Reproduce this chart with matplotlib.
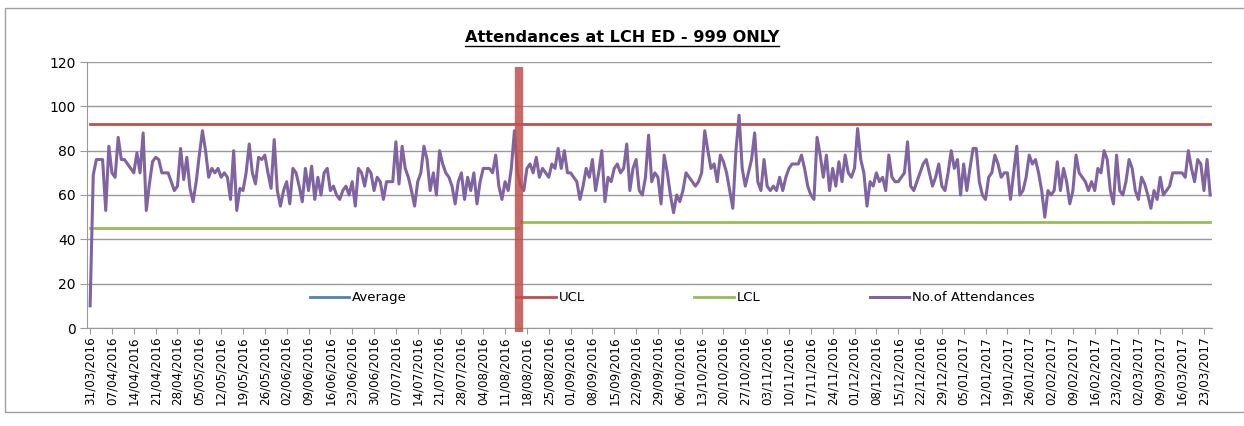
#!/usr/bin/env python3
"""Daily 999 attendances at LCH ED with control limits."""

import matplotlib
matplotlib.use("Agg")
import matplotlib.pyplot as plt
import matplotlib.dates as mdates
from matplotlib.lines import Line2D
from matplotlib.patches import Rectangle
import pandas as pd

START_DATE = "2016-03-31"

# one value per day, starting 31/03/2016
attendances = [
    10, 69, 76, 76, 76, 53, 82, 70, 68, 86,
    76, 76, 74, 72, 70, 79, 70, 88, 53, 65,
    75, 77, 76, 70, 70, 70, 66, 62, 64, 81,
    67, 77, 63, 57, 66, 78, 89, 80, 68, 72,
    70, 72, 68, 70, 68, 58, 80, 53, 63, 62,
    70, 83, 70, 65, 77, 76, 78, 70, 63, 85,
    62, 55, 62, 66, 56, 72, 70, 64, 57, 72,
    62, 73, 58, 68, 60, 70, 72, 62, 64, 60,
    58, 62, 64, 60, 66, 55, 72, 70, 64, 72,
    70, 62, 68, 66, 58, 66, 66, 66, 84, 65,
    82, 72, 68, 62, 55, 66, 70, 82, 76, 62,
    70, 60, 80, 74, 70, 68, 64, 56, 66, 70,
    58, 68, 62, 70, 56, 66, 72, 72, 72, 70,
    78, 64, 58, 66, 62, 72, 89, 70, 64, 62,
    72, 74, 70, 77, 68, 72, 70, 68, 74, 72,
    81, 72, 80, 70, 70, 68, 66, 58, 64, 72,
    68, 76, 62, 70, 80, 57, 68, 66, 72, 74,
    70, 72, 83, 62, 72, 76, 62, 60, 68, 87,
    66, 70, 68, 56, 78, 70, 60, 52, 60, 57,
    62, 70, 68, 66, 64, 66, 70, 89, 80, 72,
    74, 66, 78, 75, 70, 62, 54, 80, 96, 72,
    64, 70, 76, 88, 66, 62, 76, 64, 62, 64,
    62, 68, 62, 68, 72, 74, 74, 74, 78, 72,
    64, 60, 58, 86, 78, 68, 78, 62, 72, 64,
    75, 66, 78, 70, 68, 72, 90, 76, 70, 55,
    66, 64, 70, 66, 68, 62, 78, 68, 66, 66,
    68, 70, 84, 64, 62, 66, 70, 74, 76, 70,
    64, 68, 74, 64, 62, 70, 80, 72, 76, 60,
    74, 62, 72, 81, 81, 66, 60, 58, 68, 70,
    78, 74, 68, 70, 70, 58, 70, 82, 60, 62,
    68, 78, 74, 76, 70, 62, 50, 62, 60, 62,
    75, 62, 72, 66, 56, 62, 78, 70, 68, 66,
    62, 66, 62, 72, 70, 80, 76, 62, 56, 78,
    62, 60, 66, 76, 72, 62, 58, 68, 65, 60,
    54, 62, 58, 68, 60, 62, 64, 70, 70, 70,
    70, 68, 80, 72, 66, 76, 74, 62, 76, 60,
]

# control limits before / after the process change
ucl_levels = [92.0, 92.0]
lcl_levels = [45.0, 47.9]
change_day = 138          # first day of the second period
marker_date = "2016-08-15"  # red vertical marker

BLUE = "#4F81BD"
RED = "#C0504D"
GREEN = "#9BBB59"
PURPLE = "#8064A2"
GRID = "#9a9a9a"

dates = pd.date_range(START_DATE, periods=len(attendances), freq="D")
before = dates[:change_day]
after = dates[change_day:]

fig = plt.figure(figsize=(12.44, 4.26), dpi=100)
fig.add_artist(Rectangle((5 / 1244, 1 - 412 / 426), 1.2, (412 - 8) / 426,
                         transform=fig.transFigure, fill=False,
                         edgecolor="#a0a0a0", linewidth=1.0))

ax = fig.add_axes([87 / 1244, 1 - 328 / 426, (1212 - 87) / 1244, (328 - 62) / 426])

ax.plot([], [], color=BLUE, linewidth=2.0, label="Average")
ax.plot(before, [ucl_levels[0]] * len(before), color=RED, linewidth=2.0, label="UCL")
ax.plot(after, [ucl_levels[1]] * len(after), color=RED, linewidth=2.0)
ax.plot(before, [lcl_levels[0]] * len(before), color=GREEN, linewidth=2.0, label="LCL")
ax.plot(after, [lcl_levels[1]] * len(after), color=GREEN, linewidth=2.0)
ax.plot(dates, attendances, color=PURPLE, linewidth=2.2, label="No.of Attendances")

md = pd.Timestamp(marker_date) + pd.Timedelta(hours=14)
ax.plot([md, md], [-1.8, 117.7], color=RED, linewidth=6.0, alpha=0.85,
        solid_capstyle="butt", clip_on=False, zorder=5)

ax.set_ylim(0, 120)
ax.set_yticks(range(0, 121, 20))
ax.set_xlim(dates[0] - pd.Timedelta(days=1), dates[-1] + pd.Timedelta(hours=14))
ax.set_xticks(dates[::7])
ax.xaxis.set_major_formatter(mdates.DateFormatter("%d/%m/%Y"))

ax.grid(True, axis="y", color=GRID, linewidth=1.0)
ax.set_axisbelow(True)
for side in ("top", "right"):
    ax.spines[side].set_visible(False)
for side in ("left", "bottom"):
    ax.spines[side].set_color(GRID)
ax.tick_params(axis="y", length=5, color=GRID, labelsize=10, pad=3)
ax.tick_params(axis="x", length=4, color=GRID, labelsize=8.6, pad=2, labelrotation=90)

ax.legend(loc="center", bbox_to_anchor=(0.52, 0.113), ncol=4, frameon=False,
          fontsize=9.5, handlelength=3.0, handletextpad=0.2, columnspacing=8.3)

title = fig.text(622 / 1244, 1 - 37 / 426, "Attendances at LCH ED - 999 ONLY",
                 ha="center", va="center", fontsize=11.6, fontweight="bold")
fig.canvas.draw()
bb = title.get_window_extent()
W, H = fig.bbox.width, fig.bbox.height
uy = (bb.y0 - 1.5) / H
fig.add_artist(Line2D([bb.x0 / W, bb.x1 / W], [uy, uy], transform=fig.transFigure,
                      color="black", linewidth=1.0))

fig.savefig("out.png", dpi=100)
